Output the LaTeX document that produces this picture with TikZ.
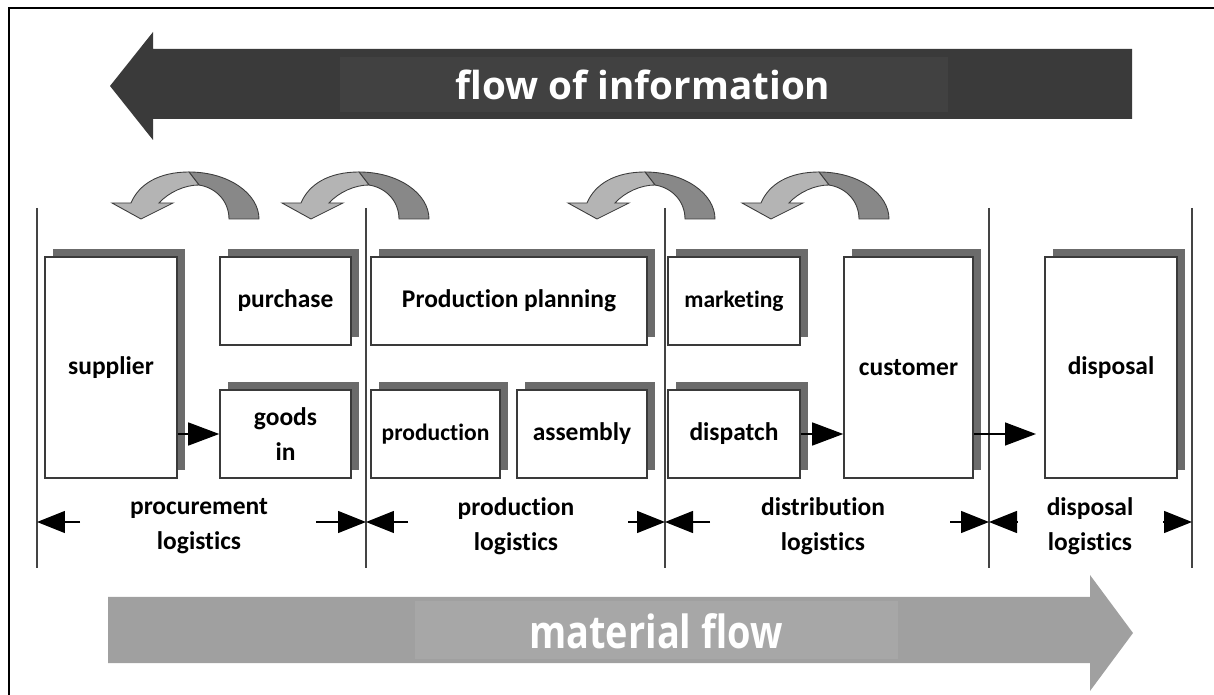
\documentclass[tikz,border=0pt]{standalone}
\usepackage{fontspec}
\setmainfont{Carlito}[Ligatures=NoCommon]
\newfontfamily\bannerfont{Open Sans}
\usetikzlibrary{arrows.meta,shadows}
\definecolor{darkarrow}{HTML}{3A3A3A}
\definecolor{darkinner}{HTML}{414141}
\definecolor{lightarrow}{HTML}{A0A0A0}
\definecolor{lightinner}{HTML}{A7A7A7}
\definecolor{shadowgray}{HTML}{6B6B6B}
\definecolor{boxline}{HTML}{3A3A3A}
\definecolor{curvlight}{HTML}{B4B4B4}
\definecolor{curvdark}{HTML}{888888}
\definecolor{curvline}{HTML}{3C3C3C}
\definecolor{divline}{HTML}{444444}
\tikzset{
  box/.style={draw=boxline, line width=0.9pt, fill=white, align=center, inner sep=0pt,
    font=\bfseries\fontsize{14.5}{20}\selectfont,
    drop shadow={shadow xshift=0.16cm, shadow yshift=0.16cm, fill=shadowgray, opacity=1}},
  smalltext/.style={font=\bfseries\fontsize{13.4}{18}\selectfont},
  flowarrow/.style={line width=0.8pt, -{Triangle[length=0.62cm,width=0.46cm]}},
  dimarrow/.style={line width=0.8pt, -{Triangle[length=0.56cm,width=0.44cm]}},
  divider/.style={draw=divline, line width=0.7pt},
  sectionlabel/.style={align=center, inner sep=0pt, font=\bfseries\fontsize{14.5}{20}\selectfont},
  bannertext/.style={text=white, inner sep=0pt, font=\bannerfont\bfseries\fontsize{22}{26}\selectfont},
  curvarrow/.pic={
    \path[fill=curvdark, draw=curvline, line width=0.5pt]
      (0,0) .. controls (40,0) and (70,22) .. (70,47) -- (40,47)
      .. controls (40,30) and (28,16) .. (10,13) -- cycle;
    \path[fill=curvlight, draw=curvline, line width=0.5pt]
      (0,0) .. controls (-30,0) and (-50,12) .. (-58,31) -- (-77,31) -- (-48,47)
      -- (-16,31) -- (-30,31) .. controls (-20,20) and (-4,13) .. (10,13) -- cycle;
  }
}
\begin{document}
\begin{tikzpicture}[x=0.02cm, y=-0.02cm]
\useasboundingbox (0,0) rectangle (1214,695);
% frame
\draw[line width=1.2pt] (9,695) -- (9,8) -- (1214,8);
% flow of information banner
\fill[darkarrow] (110,86) -- (153,32) -- (153,49) -- (1132,49) -- (1132,119) -- (153,119) -- (153,140) -- cycle;
\fill[darkinner] (340,57) rectangle (948,112);
\node[bannertext] (info) at (643,85) {flow of information};
% material flow banner
\fill[lightarrow] (108,597) -- (1090,597) -- (1090,575) -- (1133,633) -- (1090,691) -- (1090,663) -- (108,663) -- cycle;
\fill[lightinner] (415,601) rectangle (898,659);
\node[text=white, inner sep=0pt, font=\bannerfont\bfseries\fontsize{26}{30}\selectfont] (mat) at (656,631) {\scalebox{0.83}[1]{material flow}};
% curved arrows
\pic at (189,172) {curvarrow};
\pic at (359,172) {curvarrow};
\pic at (645,172) {curvarrow};
\pic at (819,172) {curvarrow};
% dividers
\coordinate (d0t) at (37,208);   \coordinate (d0b) at (37,568);
\coordinate (d1t) at (366,208);  \coordinate (d1b) at (366,568);
\coordinate (d2t) at (665,208);  \coordinate (d2b) at (665,568);
\coordinate (d3t) at (989,208);  \coordinate (d3b) at (989,568);
\coordinate (d4t) at (1192,208); \coordinate (d4b) at (1192,568);
\foreach \i in {0,...,4} { \draw[divider] (d\i t) -- (d\i b); }
% boxes
\node[box, minimum width=2.64cm, minimum height=4.42cm] (supplier) at (111,367.5) {supplier};
\node[box, minimum width=2.62cm, minimum height=1.76cm] (purchase) at (285.5,301) {purchase};
\node[box, minimum width=2.62cm, minimum height=1.76cm] (goodsin) at (285.5,434) {goods\\in};
\node[box, minimum width=5.52cm, minimum height=1.76cm] (planning) at (509,301) {Production planning};
\node[box, smalltext, minimum width=2.58cm, minimum height=1.76cm] (production) at (435.5,434) {production};
\node[box, minimum width=2.6cm, minimum height=1.76cm] (assembly) at (582,434) {assembly};
\node[box, smalltext, minimum width=2.64cm, minimum height=1.76cm] (marketing) at (734,301) {marketing};
\node[box, minimum width=2.64cm, minimum height=1.76cm] (dispatch) at (734,434) {dispatch};
\node[box, minimum width=2.58cm, minimum height=4.42cm] (customer) at (908.5,367.5) {customer};
\node[box, minimum width=2.64cm, minimum height=4.42cm] (disposal) at (1111,367.5) {disposal};
% material arrows
\draw[flowarrow] (supplier.east |- dispatch.east) -- (goodsin.west |- dispatch.east);
\draw[flowarrow] (dispatch.east) -- (dispatch.east -| customer.west);
\coordinate (dispin) at (1036,434);
\draw[flowarrow] (customer.east |- dispatch.east) -- (dispin);
% dimension arrows
\coordinate (m0) at (37,522);  \coordinate (m1) at (366,522);
\coordinate (m2) at (665,522); \coordinate (m3) at (989,522);
\coordinate (m4) at (1192,522);
\coordinate (a0r) at (80,522);
\coordinate (a1l) at (316,522);  \coordinate (a1r) at (408,522);
\coordinate (a2l) at (628,522);  \coordinate (a2r) at (710,522);
\coordinate (a3l) at (950,522);  \coordinate (a3r) at (1017,522);
\coordinate (a4l) at (1163,522);
\draw[dimarrow] (a0r) -- (m0);
\draw[dimarrow] (a1l) -- (m1);
\draw[dimarrow] (a1r) -- (m1);
\draw[dimarrow] (a2l) -- (m2);
\draw[dimarrow] (a2r) -- (m2);
\draw[dimarrow] (a3l) -- (m3);
\draw[dimarrow] (a3r) -- (m3);
\draw[dimarrow] (a4l) -- (m4);
% section labels
\node[sectionlabel] (lproc) at (199,526) {procurement\\logistics};
\node[sectionlabel] (lprod) at (516,526) {production\\logistics};
\node[sectionlabel] (ldist) at (823,526) {distribution\\logistics};
\node[sectionlabel] (ldisp) at (1090,526) {disposal\\logistics};
\end{tikzpicture}
\end{document}
